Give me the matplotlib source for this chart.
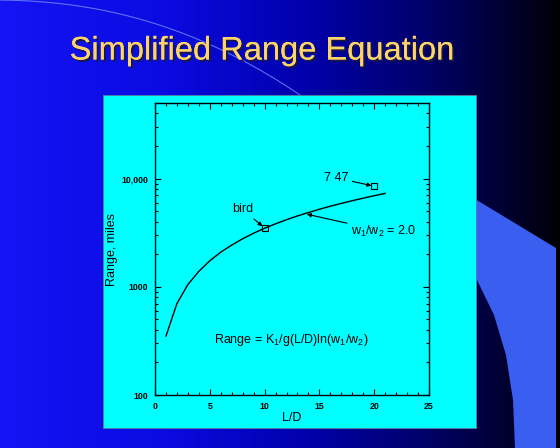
import numpy as np
import matplotlib
matplotlib.use("Agg")
import matplotlib.pyplot as plt
import matplotlib.patheffects as pe
from matplotlib.patches import Rectangle, Polygon
from matplotlib.ticker import FixedLocator, LogLocator, NullFormatter

plt.rcParams['font.family'] = ['Liberation Sans', 'DejaVu Sans']
plt.rcParams['mathtext.fontset'] = 'custom'
plt.rcParams['mathtext.rm'] = 'Liberation Sans'
plt.rcParams['mathtext.it'] = 'Liberation Sans'

# curve: range (miles) vs L/D
ld = [1, 2, 3, 4, 5, 6, 7, 8, 9, 10, 11, 12, 13, 14, 15, 16, 17, 18, 19, 20, 21]
range_mi = [350, 700, 1050, 1390, 1740, 2090, 2430, 2780, 3130, 3480, 3820,
            4170, 4520, 4860, 5210, 5560, 5900, 6250, 6600, 6950, 7300]

# marked points
bird = (10, 3500)
b747 = (20, 8500)

ytick_vals = [100, 1000, 10000]
ytick_labels = ['100', '1000', '10,000']
xtick_vals = [0, 5, 10, 15, 20, 25]

W, H = 560, 448
fig = plt.figure(figsize=(5.6, 4.48), dpi=100)

# slide background
bg = fig.add_axes([0, 0, 1, 1])
bg.set_xlim(0, W)
bg.set_ylim(H, 0)
bg.axis('off')
xs = np.linspace(0, 1, 400)
stops_x = [0.0, 0.3, 0.55, 0.75, 0.9, 0.99, 1.0]
stops_c = np.array([[20, 20, 245], [10, 10, 225], [0, 0, 170],
                    [0, 0, 110], [0, 0, 50], [0, 0, 10], [0, 0, 0]]) / 255
grad = np.stack([np.interp(xs, stops_x, stops_c[:, i]) for i in range(3)], axis=-1)
bg.imshow(grad[None, :, :], extent=[0, W, H, 0], aspect='auto', zorder=0)

# decorative shapes
t = np.linspace(0, 1, 100)
arc_x = 300 * t
arc_y = 5 * t + 90 * t ** 2.2
bg.plot(arc_x, arc_y, color='#6f8cff', lw=0.8, alpha=0.8, zorder=1)
band = Polygon([(470, 196), (556, 248), (556, 448), (515, 448), (513, 400),
                (506, 355), (494, 315), (476, 278)],
               closed=True, facecolor='#3a5ff0', edgecolor='none', zorder=1)
bg.add_patch(band)

bg.text(262, 51, 'Simplified Range Equation', color='#ffd466', fontsize=23.5,
        ha='center', va='center', zorder=3,
        path_effects=[pe.withSimplePatchShadow(offset=(1.5, -1.5),
                                               shadow_rgbFace='#1a1a40', alpha=0.9),
                      pe.Normal()])

bg.add_patch(Rectangle((103, 95), 373, 333, facecolor='#00ffff',
                       edgecolor='#5080a0', lw=0.6, zorder=4))

# chart
ax = fig.add_axes([155 / W, 1 - 395 / H, (429 - 155) / W, (395 - 103) / H])
ax.set_facecolor('#00ffff')
ax.plot(ld, range_mi, color='black', lw=1.0)
ax.plot(*bird, 's', ms=4, mfc='none', mec='black', mew=0.8)
ax.plot(*b747, 's', ms=4, mfc='none', mec='black', mew=0.8)

ax.set_yscale('log')
ax.set_xlim(0, 25)
ax.set_ylim(100, 50000)
ax.xaxis.set_major_locator(FixedLocator(xtick_vals))
ax.xaxis.set_minor_locator(FixedLocator(range(0, 26)))
ax.set_xticklabels([str(v) for v in xtick_vals])
ax.yaxis.set_major_locator(FixedLocator(ytick_vals))
ax.set_yticklabels(ytick_labels)
ax.yaxis.set_minor_locator(LogLocator(subs=np.arange(2, 10)))
ax.yaxis.set_minor_formatter(NullFormatter())
ax.tick_params(which='both', direction='in', top=True, right=True,
               labelsize=6.3, width=0.8, pad=5)
ax.tick_params(which='major', length=4)
ax.tick_params(which='minor', length=2.2)
for lab in ax.get_xticklabels() + ax.get_yticklabels():
    lab.set_fontweight('bold')
for s in ax.spines.values():
    s.set_linewidth(1.0)

ax.set_xlabel('L/D', fontsize=9, labelpad=1)
ax.set_ylabel('Range, miles', fontsize=9, labelpad=2)

arrow = dict(arrowstyle='-|>', color='black', lw=0.8, mutation_scale=6,
             shrinkA=1, shrinkB=2)
ax.annotate('bird', xy=bird, xytext=(7.0, 5200), fontsize=9,
            ha='left', va='center', arrowprops=arrow)
ax.annotate('7 47', xy=b747, xytext=(15.4, 10200), fontsize=9,
            ha='left', va='center', arrowprops=arrow)
ax.annotate(r'w$_1$/w$_2$ = 2.0', xy=(13.6, 4750), xytext=(17.9, 3250),
            fontsize=9, ha='left', va='center', arrowprops=arrow)
ax.text(12.4, 325, r'Range = K$_1$/g(L/D)ln(w$_1$/w$_2$)', fontsize=9,
        ha='center', va='center')

fig.savefig('out.png', dpi=100)
